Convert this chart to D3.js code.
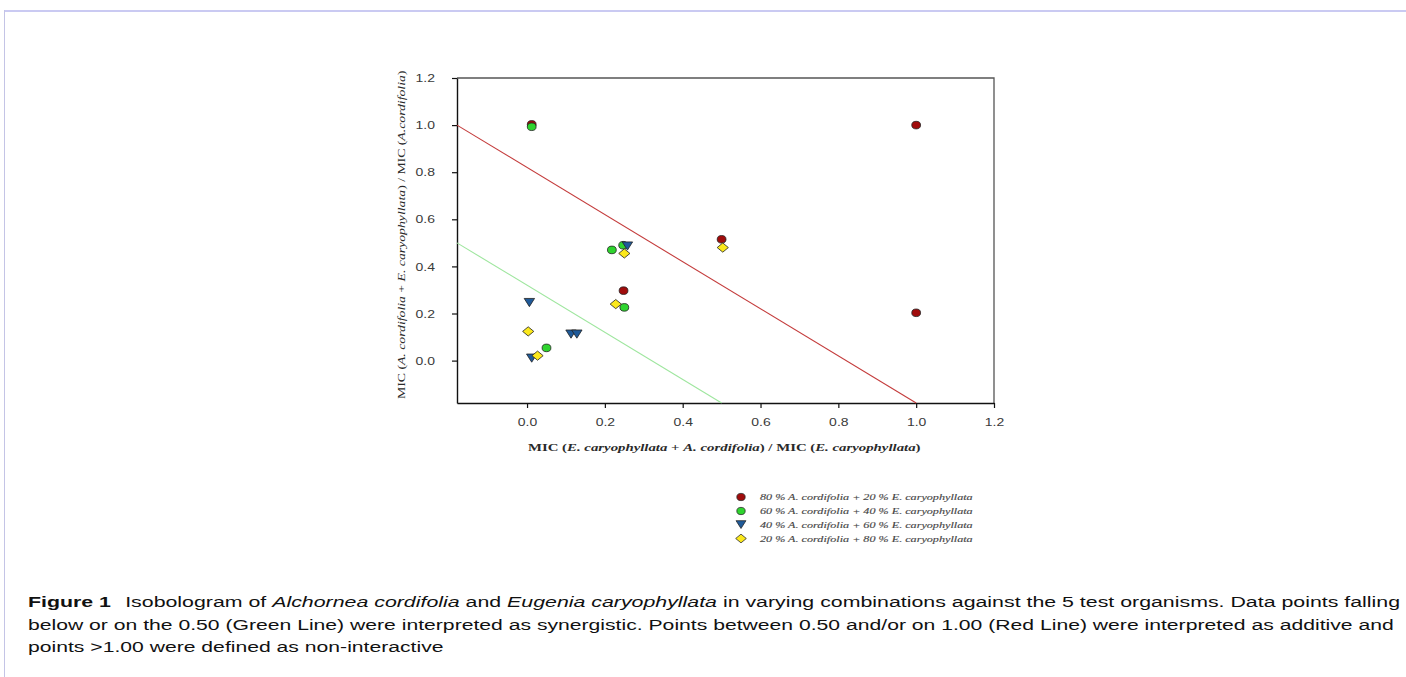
<!DOCTYPE html>
<html>
<head>
<meta charset="utf-8">
<script src="https://cdn.jsdelivr.net/npm/d3@7"></script>
<style>
  body { margin: 0; background: #fff; }
  svg { display: block; }
</style>
</head>
<body>
<svg id="chart" width="1406" height="677"></svg>
<script>
// series labels (legend order)
const seriesPctA = ["80", "60", "40", "20"];
const seriesPctE = ["20", "40", "60", "80"];

// x = MIC ratio E. caryophyllata, y = MIC ratio A. cordifolia
const redX = [0.012, 1.0, 0.5, 0.248, 1.0];
const redY = [1.003, 1.0, 0.515, 0.297, 0.203];
const greenX = [0.012, 0.218, 0.247, 0.25, 0.05];
const greenY = [0.993, 0.47, 0.49, 0.226, 0.054];
const blueX = [0.006, 0.258, 0.113, 0.128, 0.012];
const blueY = [0.247, 0.487, 0.113, 0.113, 0.011];
const yellowX = [0.25, 0.503, 0.228, 0.003, 0.027];
const yellowY = [0.455, 0.48, 0.24, 0.124, 0.021];

const tickValues = [0, 0.2, 0.4, 0.6, 0.8, 1.0, 1.2];

// isobole lines (start, end)
const redLine = [[-0.18, 1.0], [1.0, -0.18]];
const greenLine = [[-0.18, 0.5], [0.5, -0.18]];

const svg = d3.select("#chart");
const stretch = 1.4; // glyphs in the picture are wider than tall

// page frame
svg.append("line").attr("x1", 4).attr("x2", 1406).attr("y1", 11).attr("y2", 11)
    .attr("stroke", "#cacaf2").attr("stroke-width", 2);
svg.append("line").attr("x1", 4.5).attr("x2", 4.5).attr("y1", 10).attr("y2", 677)
    .attr("stroke", "#c4c4e6").attr("stroke-width", 1);

// plot area
const plotL = 457, plotR = 994, plotT = 78, plotB = 403;
const x = d3.scaleLinear().domain([-0.18, 1.2]).range([plotL, plotR]);
const y = d3.scaleLinear().domain([-0.18, 1.2]).range([plotB, plotT]);

// box top/right
svg.append("path")
    .attr("d", `M${plotL},${plotT}H${plotR}V${plotB}`)
    .attr("fill", "none").attr("stroke", "#555").attr("stroke-width", 1.3);

const xAxis = svg.append("g")
    .attr("transform", `translate(0,${plotB})`)
    .call(d3.axisBottom(x).tickValues(tickValues).tickFormat(d3.format(".1f")).tickSize(5).tickSizeOuter(0));
const yAxis = svg.append("g")
    .attr("transform", `translate(${plotL},0)`)
    .call(d3.axisLeft(y).tickValues(tickValues).tickFormat(d3.format(".1f")).tickSize(5).tickSizeOuter(0));

[xAxis, yAxis].forEach(a => {
    a.select(".domain").attr("stroke", "#111").attr("stroke-width", 1.4);
    a.selectAll(".tick line").attr("stroke", "#111").attr("stroke-width", 1.2);
    a.selectAll(".tick text")
        .attr("font-family", "'Liberation Sans', Arial, sans-serif")
        .attr("font-size", 10).attr("fill", "#3a3a3a");
});
xAxis.selectAll(".tick text").attr("y", 0).attr("dy", 0)
    .attr("transform", `translate(0,22.5) scale(${stretch},1)`);
yAxis.selectAll(".tick text").attr("x", 0).attr("dy", 0)
    .attr("transform", `translate(-22,3.6) scale(${stretch},1)`);

// isobole lines
const lineGen = d3.line().x(d => x(d[0])).y(d => y(d[1]));
svg.append("path").datum(redLine).attr("d", lineGen)
    .attr("stroke", "#c43c3c").attr("stroke-width", 1.1).attr("fill", "none");
svg.append("path").datum(greenLine).attr("d", lineGen)
    .attr("stroke", "#9ee69e").attr("stroke-width", 1.1).attr("fill", "none");

// markers
const shapes = {
    circle: "M-4.4,0A4.4,3.8 0 1,0 4.4,0A4.4,3.8 0 1,0 -4.4,0Z",
    triDown: "M-5.2,-4L5.2,-4L0,4.2Z",
    diamond: "M0,-4.6L5.6,0L0,4.6L-5.6,0Z"
};
const series = [
    { xs: redX, ys: redY, fill: "#a00c0c", shape: "circle" },
    { xs: greenX, ys: greenY, fill: "#2fd42f", shape: "circle" },
    { xs: blueX, ys: blueY, fill: "#1f5a99", shape: "triDown" },
    { xs: yellowX, ys: yellowY, fill: "#fbe81c", shape: "diamond" }
];

series.forEach(s => {
    const pts = s.xs.map((v, i) => [v, s.ys[i]]);
    svg.append("g").selectAll("path")
        .data(pts)
        .enter().append("path")
        .attr("d", shapes[s.shape])
        .attr("transform", d => `translate(${x(d[0])},${y(d[1])})`)
        .attr("fill", s.fill)
        .attr("stroke", "#222").attr("stroke-width", 0.8);
});

// fit a text element into a given width by stretching it
function fitWidth(t, x0, y0, width, rotate) {
    const len = t.node().getComputedTextLength();
    const k = width / len;
    t.attr("transform", `translate(${x0},${y0})${rotate ? " rotate(-90)" : ""} scale(${k},1)`);
    return k;
}

// x axis title
const xt = svg.append("text")
    .attr("font-family", "'Liberation Serif', 'Times New Roman', serif")
    .attr("font-weight", "bold").attr("font-size", 10.5).attr("fill", "#2a2a2a");
xt.append("tspan").text("MIC (");
xt.append("tspan").attr("font-style", "italic").text("E. caryophyllata");
xt.append("tspan").text(" + ");
xt.append("tspan").attr("font-style", "italic").text("A. cordifolia");
xt.append("tspan").text(") / MIC (");
xt.append("tspan").attr("font-style", "italic").text("E. caryophyllata");
xt.append("tspan").text(")");
fitWidth(xt, 528, 451, 393);

// y axis title
const yt = svg.append("text")
    .attr("font-family", "'Liberation Serif', 'Times New Roman', serif")
    .attr("font-size", 10.5).attr("fill", "#2a2a2a");
yt.append("tspan").text("MIC (");
yt.append("tspan").attr("font-style", "italic").text("A. cordifolia");
yt.append("tspan").text("  + ");
yt.append("tspan").attr("font-style", "italic").text("E. caryophyllata");
yt.append("tspan").text(") / MIC (");
yt.append("tspan").attr("font-style", "italic").text("A.cordifolia");
yt.append("tspan").text(")");
fitWidth(yt, 405, 399, 329, true);

// legend
const legendRows = [497, 511, 524.5, 538.5];
series.forEach((s, i) => {
    svg.append("path")
        .attr("d", shapes[s.shape])
        .attr("transform", `translate(741,${legendRows[i]}) scale(0.95)`)
        .attr("fill", s.fill).attr("stroke", "#222").attr("stroke-width", 0.8);
    const lt = svg.append("text")
        .attr("font-family", "'Liberation Serif', 'Times New Roman', serif")
        .attr("font-style", "italic").attr("font-size", 8)
        .attr("fill", "#333").attr("stroke", "#777").attr("stroke-width", 0.15)
        .text(`${seriesPctA[i]} % A. cordifolia + ${seriesPctE[i]} % E. caryophyllata`);
    fitWidth(lt, 760, legendRows[i] + 3, 213);
});

// caption
const capFont = "'Liberation Sans', Arial, Helvetica, sans-serif";
const cap1 = svg.append("text").attr("font-family", capFont).attr("font-size", 15.5).attr("fill", "#111");
cap1.append("tspan").attr("font-weight", "bold").text("Figure 1");
cap1.append("tspan").attr("dx", 6).text(" Isobologram of ");
cap1.append("tspan").attr("font-style", "italic").text("Alchornea cordifolia");
cap1.append("tspan").text(" and ");
cap1.append("tspan").attr("font-style", "italic").text("Eugenia caryophyllata");
cap1.append("tspan").text(" in varying combinations against the 5 test organisms. Data points falling");
fitWidth(cap1, 28, 607, 1365);

const cap2 = svg.append("text").attr("font-family", capFont).attr("font-size", 15.5).attr("fill", "#111")
    .text("below or on the 0.50 (Green Line) were interpreted as synergistic. Points between 0.50 and/or on 1.00 (Red Line) were interpreted as additive and");
const k2 = fitWidth(cap2, 28, 629.5, 1367);

svg.append("text").attr("font-family", capFont).attr("font-size", 15.5).attr("fill", "#111")
    .attr("transform", `translate(28,652) scale(${k2},1)`)
    .text("points >1.00 were defined as non-interactive");
</script>
</body>
</html>
